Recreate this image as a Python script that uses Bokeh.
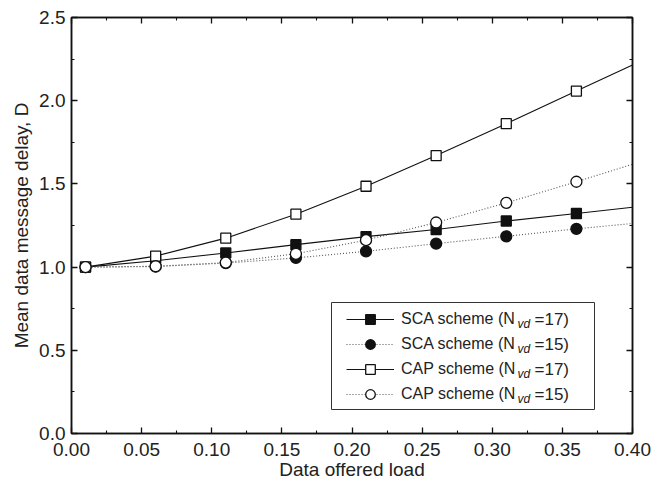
from bokeh.plotting import figure
from bokeh.models import (Range1d, FixedTicker, LinearAxis, Legend, LegendItem, Label,
                          BoxAnnotation, CustomJSTickFormatter, NumeralTickFormatter)
from bokeh.embed import file_html
from bokeh.resources import INLINE

# ---- data ----
load = [0.01, 0.06, 0.11, 0.16, 0.21, 0.26, 0.31, 0.36]
load_end = 0.40
sca17 = [1.00, 1.038, 1.085, 1.135, 1.183, 1.226, 1.277, 1.322]
sca17_end = 1.360
sca15 = [1.00, 1.003, 1.024, 1.055, 1.095, 1.141, 1.185, 1.230]
sca15_end = 1.262
cap17 = [1.00, 1.066, 1.174, 1.318, 1.486, 1.670, 1.862, 2.058]
cap17_end = 2.215
cap15 = [1.00, 1.005, 1.027, 1.080, 1.162, 1.268, 1.386, 1.513]
cap15_end = 1.618

x_ticks = [0.00, 0.05, 0.10, 0.15, 0.20, 0.25, 0.30, 0.35, 0.40]
x_minor = [0.025, 0.075, 0.125, 0.175, 0.225, 0.275, 0.325, 0.375]
y_ticks = [0.0, 0.5, 1.0, 1.5, 2.0, 2.5]
y_minor = [0.25, 0.75, 1.25, 1.75, 2.25]

legend_names = ["SCA scheme (N", "SCA scheme (N", "CAP scheme (N", "CAP scheme (N"]
legend_sub = ["vd", "vd", "vd", "vd"]
legend_tail = ["=17)", "=15)", "=17)", "=15)"]

FONT = "Liberation Sans"
TXT = "#222222"

p = figure(width=672, height=488, output_backend="svg", toolbar_location=None,
           x_range=Range1d(0, 0.40), y_range=Range1d(0, 2.5),
           min_border_left=71, min_border_right=40, min_border_top=17, min_border_bottom=55)
p.grid.visible = False
p.background_fill_color = "white"
p.border_fill_color = "white"
p.outline_line_color = "#111111"
p.outline_line_width = 1.5

bottom_ax = p.below[0]
left_ax = p.left[0]

bottom_ax.ticker = FixedTicker(ticks=x_ticks, minor_ticks=x_minor)
left_ax.ticker = FixedTicker(ticks=y_ticks, minor_ticks=y_minor)
bottom_ax.formatter = NumeralTickFormatter(format="0.00")
left_ax.formatter = NumeralTickFormatter(format="0.0")
bottom_ax.axis_label = "Data offered load"
left_ax.axis_label = "Mean data message delay, D"

top_ax = LinearAxis(ticker=FixedTicker(ticks=x_ticks, minor_ticks=x_minor),
                    formatter=CustomJSTickFormatter(code="return ''"))
right_ax = LinearAxis(ticker=FixedTicker(ticks=y_ticks, minor_ticks=y_minor),
                      formatter=CustomJSTickFormatter(code="return ''"))
p.add_layout(top_ax, "above")
p.add_layout(right_ax, "right")

for ax in [bottom_ax, left_ax, top_ax, right_ax]:
    ax.axis_line_color = "#111111"
    ax.axis_line_width = 1.5
    ax.major_tick_line_color = "#111111"
    ax.minor_tick_line_color = "#111111"
    ax.major_tick_line_width = 1.3
    ax.minor_tick_line_width = 1.1
    ax.major_tick_in = 6
    ax.major_tick_out = 0
    ax.minor_tick_in = 3
    ax.minor_tick_out = 0
    ax.major_label_text_font = FONT
    ax.major_label_text_color = TXT
    ax.axis_label_text_font = FONT
    ax.axis_label_text_font_style = "normal"
    ax.axis_label_text_color = TXT

for ax in [bottom_ax, left_ax]:
    ax.major_label_text_font_size = "19px"
    ax.axis_label_text_font_size = "19px"
bottom_ax.major_label_standoff = 9
left_ax.major_label_standoff = 6
bottom_ax.axis_label_standoff = 0
left_ax.axis_label_standoff = 4

for ax in [top_ax, right_ax]:
    ax.major_label_text_font_size = "0px"
    ax.major_label_standoff = 0

xl = load + [load_end]
series = [
    (sca17 + [sca17_end], sca17, "solid", "#111111", "square", "#111111"),
    (sca15 + [sca15_end], sca15, "1 2", "#555555", "circle", "#111111"),
    (cap17 + [cap17_end], cap17, "solid", "#111111", "square", "white"),
    (cap15 + [cap15_end], cap15, "1 2", "#555555", "circle", "white"),
]
items = []
for i, (yl, ym, dash, lc, mk, fc) in enumerate(series):
    rl = p.line(xl, yl, line_color=lc, line_width=1.1, line_dash=dash)
    rm = p.scatter(load, ym, marker=mk, size=11 if mk == "circle" else 10,
                   fill_color=fc, line_color="#111111", line_width=1.3)
    items.append(LegendItem(label=legend_names[i], renderers=[rl, rm]))

box = BoxAnnotation(left=260, right=523, bottom=24, top=131,
                    left_units="screen", right_units="screen",
                    top_units="screen", bottom_units="screen",
                    fill_color="white", fill_alpha=1.0,
                    line_color="#333333", line_width=1, line_alpha=1.0)
p.add_layout(box)

legend = Legend(items=items, location=(275, 27), margin=0, padding=0, spacing=1,
                glyph_width=48, glyph_height=24, label_height=24, label_standoff=7,
                border_line_alpha=0, background_fill_alpha=0,
                label_text_font=FONT, label_text_font_size="16px",
                label_text_color=TXT)
p.add_layout(legend)

for i in range(4):
    yc = 114 - 25 * i
    p.add_layout(Label(x=446, y=yc - 4, x_units="screen", y_units="screen",
                       text=legend_sub[i], text_font=FONT, text_font_size="12px",
                       text_font_style="italic", text_color=TXT,
                       text_baseline="middle", text_align="left"))
    p.add_layout(Label(x=463, y=yc, x_units="screen", y_units="screen",
                       text=legend_tail[i], text_font=FONT, text_font_size="17px",
                       text_color=TXT, text_baseline="middle", text_align="left"))

open("out.html", "w").write(file_html(p, INLINE))
